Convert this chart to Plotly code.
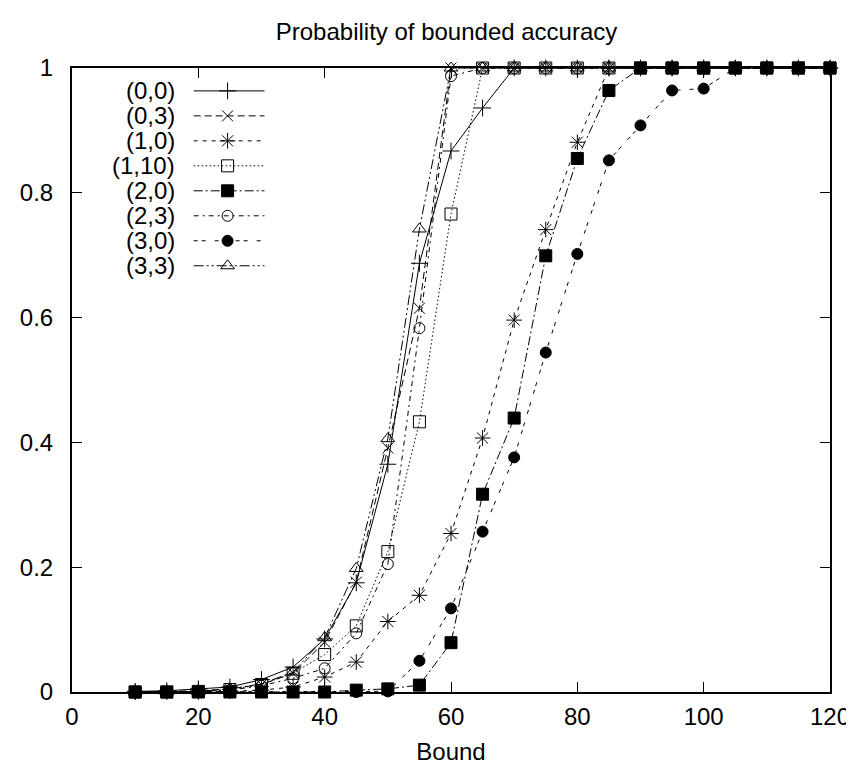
import plotly.graph_objects as go

bound = [10, 15, 20, 25, 30, 35, 40, 45, 50, 55, 60, 65, 70, 75, 80, 85, 90, 95, 100, 105, 110, 115, 120]

s_0_0  = [0.001, 0.002, 0.005, 0.008, 0.020, 0.040, 0.085, 0.175, 0.365, 0.687, 0.867, 0.936, 1, 1, 1, 1, 1, 1, 1, 1, 1, 1, 1]
s_0_3  = [0.000, 0.001, 0.002, 0.005, 0.012, 0.030, 0.080, 0.176, 0.391, 0.615, 1.000, 1, 1, 1, 1, 1, 1, 1, 1, 1, 1, 1, 1]
s_1_0  = [0.000, 0.000, 0.000, 0.001, 0.003, 0.008, 0.024, 0.048, 0.113, 0.155, 0.254, 0.407, 0.596, 0.741, 0.881, 1, 1, 1, 1, 1, 1, 1, 1]
s_1_10 = [0.000, 0.000, 0.001, 0.004, 0.012, 0.030, 0.060, 0.106, 0.225, 0.433, 0.766, 1, 1, 1, 1, 1, 1, 1, 1, 1, 1, 1, 1]
s_2_0  = [0.000, 0.000, 0.000, 0.000, 0.000, 0.000, 0.000, 0.003, 0.005, 0.011, 0.079, 0.317, 0.439, 0.699, 0.855, 0.964, 1, 1, 1, 1, 1, 1, 1]
s_2_3  = [0.000, 0.000, 0.001, 0.003, 0.010, 0.022, 0.038, 0.094, 0.205, 0.583, 0.987, 1, 1, 1, 1, 1, 1, 1, 1, 1, 1, 1, 1]
s_3_0  = [0.000, 0.000, 0.000, 0.000, 0.000, 0.000, 0.000, 0.000, 0.001, 0.050, 0.134, 0.257, 0.376, 0.544, 0.702, 0.852, 0.908, 0.964, 0.967, 1, 1, 1, 1]
s_3_3  = [0.000, 0.000, 0.001, 0.005, 0.013, 0.032, 0.087, 0.198, 0.406, 0.742, 1.000, 1, 1, 1, 1, 1, 1, 1, 1, 1, 1, 1, 1]

names = ["(0,0)", "(0,3)", "(1,0)", "(1,10)", "(2,0)", "(2,3)", "(3,0)", "(3,3)"]
series = [s_0_0, s_0_3, s_1_0, s_1_10, s_2_0, s_2_3, s_3_0, s_3_3]

styles = [
    dict(dash="solid", symbol="cross-thin", size=12),
    dict(dash="7px,4px", symbol="x-thin", size=11),
    dict(dash="4px,5px", symbol="asterisk", size=13),
    dict(dash="1.5px,2.5px", symbol="square-open", size=12),
    dict(dash="9px,3px,2px,3px", symbol="square", size=12),
    dict(dash="5px,4px,2px,4px", symbol="circle-open", size=11),
    dict(dash="4px,4px,4px,9px", symbol="circle", size=11),
    dict(dash="10px,3px,2px,3px,2px,3px", symbol="triangle-up-open", size=12),
]

FONT = "Liberation Sans, Arial, sans-serif"
FS = 24
fig = go.Figure()

for name, ys, st in zip(names, series, styles):
    fig.add_trace(go.Scatter(
        x=bound, y=ys, mode="lines+markers", name=name, showlegend=False,
        cliponaxis=False,
        line=dict(color="black", width=1, dash=st["dash"]),
        marker=dict(symbol=st["symbol"], size=st["size"], color="black",
                    line=dict(color="black", width=1)),
    ))

# manual legend (text left, sample right), on an overlay axis in pixel units
leg_y0, leg_dy = 83, 25.1
for i, (name, st) in enumerate(zip(names, styles)):
    yy = leg_y0 + i * leg_dy
    fig.add_trace(go.Scatter(
        x=[186, 257], y=[yy, yy], mode="lines", xaxis="x2", yaxis="y2",
        showlegend=False, hoverinfo="skip", cliponaxis=False,
        line=dict(color="black", width=1, dash=st["dash"]),
    ))
    fig.add_trace(go.Scatter(
        x=[220], y=[yy], mode="markers", xaxis="x2", yaxis="y2",
        showlegend=False, hoverinfo="skip", cliponaxis=False,
        marker=dict(symbol=st["symbol"], size=st["size"], color="black",
                    line=dict(color="black", width=1)),
    ))
    fig.add_annotation(x=169, y=yy, xref="x2", yref="y2", text=name,
                       showarrow=False, xanchor="right", yanchor="middle",
                       font=dict(family=FONT, size=FS, color="black"))

axis_common = dict(showgrid=False, zeroline=False, showline=True, linecolor="black",
                   linewidth=2, mirror="ticks", ticks="inside", ticklen=10,
                   tickwidth=1, tickcolor="black",
                   tickfont=dict(family=FONT, size=FS, color="black"))

fig.update_layout(
    width=854, height=765, autosize=False,
    margin=dict(l=64, r=30, t=60, b=78),
    paper_bgcolor="white", plot_bgcolor="white",
    title=dict(text="Probability of bounded accuracy", x=0.5135, xanchor="center",
               y=1 - 24 / 765, yanchor="middle",
               font=dict(family=FONT, size=FS, color="black")),
    xaxis=dict(range=[0, 120], dtick=20, tick0=0, ticklabelstandoff=2,
               title=dict(text="Bound", font=dict(family=FONT, size=FS, color="black"), standoff=14),
               **axis_common),
    yaxis=dict(range=[0, 1], dtick=0.2, tick0=0, ticklabelstandoff=12, **axis_common),
    xaxis2=dict(range=[64, 824], overlaying="x", visible=False, fixedrange=True),
    yaxis2=dict(range=[687, 60], overlaying="y", visible=False, fixedrange=True),
    showlegend=False,
)

fig.write_html("out.html")
